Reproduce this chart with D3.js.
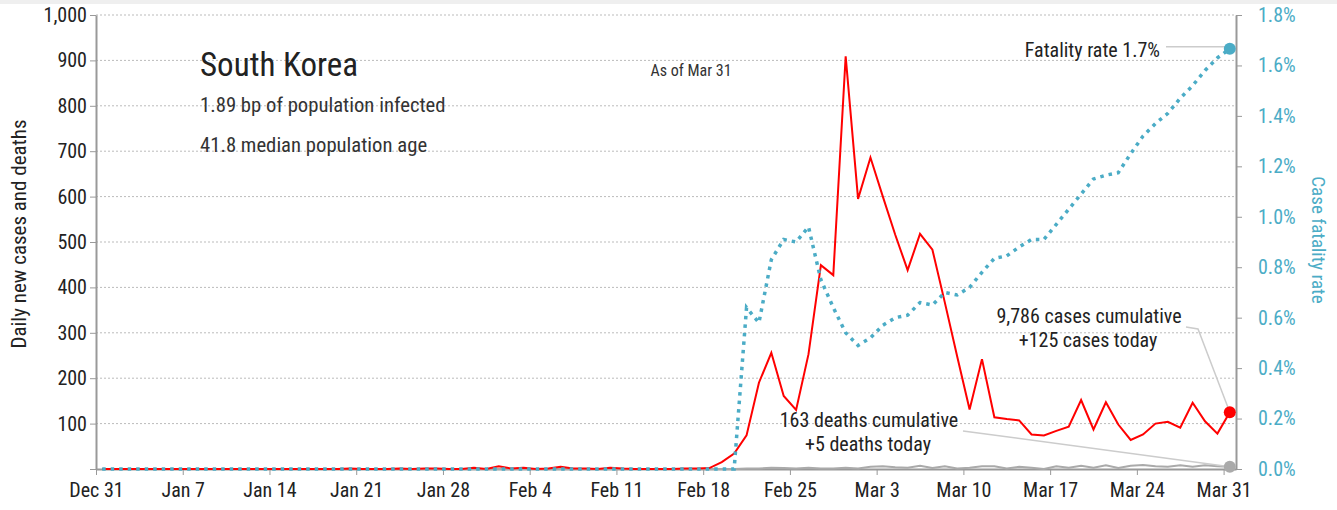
<!DOCTYPE html>
<html lang="en">
<head>
<meta charset="UTF-8">
<script src="https://d3js.org/d3.v7.min.js"></script>
<title>South Korea</title>
<style>
  body { margin: 0; background: #fff; }
  svg text { font-family: "Liberation Sans Narrow", "Arial Narrow", "Roboto Condensed", "DejaVu Sans Condensed", sans-serif; fill: #222; }
  .grid line { stroke: #bbb; stroke-dasharray: 2 2; }
  .axis path, .axis line { stroke: #999; }
  .axis path { stroke-width: 2; }
  .axis text { font-size: 20px; fill: #222; }
  .axis.right text { fill: #4bacc6; }
</style>
</head>
<body>
<div id="chart"></div>
<script>
// daily series, one value per day from Dec 31 2019 to Mar 31 2020
var startDate = "2019-12-31";

var cases = [
  0, 0, 0, 0, 0, 0, 0, 0, 0, 0, 0, 0, 0, 0, 0, 0, 0, 0, 0, 0,   // Dec 31 - Jan 19
  1, 0, 0, 0, 1, 0, 1, 1, 0, 0, 3, 0,                           // Jan 20 - Jan 31
  6, 1, 3, 0, 1, 5, 1, 1, 0, 3, 1, 0, 0, 0, 0, 1, 1, 2,         // Feb 1 - Feb 18
  15, 34, 74, 190, 256, 161, 130, 253, 449, 427, 909,           // Feb 19 - Feb 29
  595, 686, 600, 516, 438, 518, 483, 367, 248, 131, 242, 114, 110, 107, 76, 74,
  84, 93, 152, 87, 147, 98, 64, 76, 100, 104, 91, 146, 105, 78, 125
];

var deaths = [
  0, 0, 0, 0, 0, 0, 0, 0, 0, 0, 0, 0, 0, 0, 0, 0, 0, 0, 0, 0,
  0, 0, 0, 0, 0, 0, 0, 0, 0, 0, 0, 0,
  0, 0, 0, 0, 0, 0, 0, 0, 0, 0, 0, 0, 0, 0, 0, 0, 0, 0,
  0, 0, 1, 1, 3, 2, 1, 3, 1, 1, 3,
  1, 5, 6, 4, 3, 7, 2, 6, 1, 3, 6, 6, 1, 5, 3, 0,
  6, 3, 7, 3, 8, 2, 7, 9, 6, 5, 8, 5, 8, 6, 5
];

// case fatality rate, percent
var fatality = [
  0, 0, 0, 0, 0, 0, 0, 0, 0, 0, 0, 0, 0, 0, 0, 0, 0, 0, 0, 0,
  0, 0, 0, 0, 0, 0, 0, 0, 0, 0, 0, 0,
  0, 0, 0, 0, 0, 0, 0, 0, 0, 0, 0, 0, 0, 0, 0, 0, 0, 0,
  0, 0, 0.64, 0.58, 0.83, 0.91, 0.90, 0.96, 0.75, 0.64, 0.54,
  0.49, 0.52, 0.57, 0.60, 0.61, 0.66, 0.65, 0.70, 0.69, 0.72, 0.78, 0.835, 0.845, 0.88, 0.91, 0.91,
  0.97, 1.03, 1.09, 1.15, 1.165, 1.175, 1.25, 1.32, 1.37, 1.41, 1.47, 1.52, 1.58, 1.63, 1.666
];

var leftTicks = [0, 100, 200, 300, 400, 500, 600, 700, 800, 900, 1000];
var rightTicks = [0, 0.2, 0.4, 0.6, 0.8, 1.0, 1.2, 1.4, 1.6, 1.8];
var xTicks = ["2019-12-31", "2020-01-07", "2020-01-14", "2020-01-21", "2020-01-28", "2020-02-04",
  "2020-02-11", "2020-02-18", "2020-02-25", "2020-03-03", "2020-03-10", "2020-03-17",
  "2020-03-24", "2020-03-31"];

var country = "South Korea",
    infectedText = "1.89 bp of population infected",
    ageText = "41.8 median population age",
    asOf = "As of Mar 31";

var margin = {top: 15, right: 101, bottom: 41, left: 96},
    W = 1337, H = 510,
    width = W - margin.left - margin.right,
    height = H - margin.top - margin.bottom;

var parse = d3.timeParse("%Y-%m-%d"),
    start = parse(startDate),
    days = cases.map(function(d, i) { return d3.timeDay.offset(start, i); });

var data = days.map(function(day, i) {
  return {date: day, mid: d3.timeHour.offset(day, 12), cases: cases[i], deaths: deaths[i], rate: fatality[i]};
});

var x = d3.scaleTime()
    .domain([start, d3.timeDay.offset(days[days.length - 1], 1)])
    .range([0, width]);
var y = d3.scaleLinear().domain([0, 1000]).range([height, 0]);
var yr = d3.scaleLinear().domain([0, 1.8]).range([height, 0]);

var svg = d3.select("#chart").append("svg")
    .attr("width", W)
    .attr("height", H);

svg.append("rect")
    .attr("width", W)
    .attr("height", 4)
    .attr("fill", "#efefef");

var g = svg.append("g")
    .attr("transform", "translate(" + margin.left + "," + margin.top + ")");

// gridlines
g.append("g")
    .attr("class", "grid")
  .selectAll("line")
    .data(leftTicks.filter(function(d) { return d > 0; }))
  .enter().append("line")
    .attr("x1", 0)
    .attr("x2", width)
    .attr("y1", function(d) { return y(d); })
    .attr("y2", function(d) { return y(d); });

// axes
g.append("g")
    .attr("class", "axis left")
    .call(d3.axisLeft(y).tickValues(leftTicks).tickSize(6).tickSizeOuter(0).tickPadding(3)
      .tickFormat(function(d) { return d === 0 ? "" : d3.format(",")(d); }));

g.append("g")
    .attr("class", "axis right")
    .attr("transform", "translate(" + width + ",0)")
    .call(d3.axisRight(yr).tickValues(rightTicks).tickSize(6).tickSizeOuter(0).tickPadding(16)
      .tickFormat(function(d) { return d.toFixed(1) + "%"; }));

g.append("g")
    .attr("class", "axis bottom")
    .attr("transform", "translate(0," + height + ")")
    .call(d3.axisBottom(x).tickValues(xTicks.map(parse)).tickSize(6).tickSizeOuter(0).tickPadding(8)
      .tickFormat(d3.timeFormat("%b %-d")));

// axis titles
svg.append("text")
    .attr("transform", "translate(26," + (margin.top + height / 2 - 8) + ") rotate(-90)")
    .attr("text-anchor", "middle")
    .attr("font-size", "21px")
    .text("Daily new cases and deaths");

svg.append("text")
    .attr("transform", "translate(1312," + (margin.top + height / 2 - 2) + ") rotate(90)")
    .attr("text-anchor", "middle")
    .attr("font-size", "19px")
    .style("fill", "#4bacc6")
    .text("Case fatality rate");

// lines
var deathLine = d3.line()
    .x(function(d) { return x(d.mid); })
    .y(function(d) { return y(d.deaths); });
var caseLine = d3.line()
    .x(function(d) { return x(d.mid); })
    .y(function(d) { return y(d.cases); });
var rateLine = d3.line()
    .x(function(d) { return x(d.mid); })
    .y(function(d) { return yr(d.rate); });

g.append("path")
    .datum(data)
    .attr("fill", "none")
    .attr("stroke", "#aaa")
    .attr("stroke-width", 2)
    .attr("d", deathLine);

g.append("path")
    .datum(data)
    .attr("fill", "none")
    .attr("stroke", "#ff0000")
    .attr("stroke-width", 2)
    .attr("stroke-linejoin", "miter")
    .attr("d", caseLine);

g.append("path")
    .datum(data)
    .attr("fill", "none")
    .attr("stroke", "#4bacc6")
    .attr("stroke-width", 3.5)
    .attr("stroke-dasharray", "3.5 5")
    .attr("d", rateLine);

// title block
svg.append("text").attr("x", 200).attr("y", 76).attr("font-size", "33px").text(country);
svg.append("text").attr("x", 200).attr("y", 112).attr("font-size", "20.7px").style("fill", "#333").text(infectedText);
svg.append("text").attr("x", 200).attr("y", 152).attr("font-size", "20.7px").style("fill", "#333").text(ageText);
svg.append("text").attr("x", 691).attr("y", 76).attr("font-size", "16px").attr("text-anchor", "middle").style("fill", "#333").text(asOf);

// end-point annotations
var last = data[data.length - 1],
    lx = margin.left + x(last.mid),
    cumCases = d3.sum(cases),
    cumDeaths = d3.sum(deaths);

var rateY = margin.top + yr(last.rate),
    caseY = margin.top + y(last.cases),
    deathY = margin.top + y(last.deaths);

svg.append("line").attr("x1", 1166).attr("x2", lx).attr("y1", rateY - 2).attr("y2", rateY - 2)
    .attr("stroke", "#ccc").attr("stroke-width", 1.5);
svg.append("polyline").attr("points", "1186,327 1198,329 " + lx + "," + caseY)
    .attr("fill", "none").attr("stroke", "#ccc").attr("stroke-width", 1.5);
svg.append("line").attr("x1", 963).attr("y1", 431).attr("x2", lx).attr("y2", deathY)
    .attr("stroke", "#ccc").attr("stroke-width", 1.5);

svg.append("circle").attr("cx", lx).attr("cy", rateY).attr("r", 6).attr("fill", "#4bacc6");
svg.append("circle").attr("cx", lx).attr("cy", caseY).attr("r", 6).attr("fill", "#ff0000");
svg.append("circle").attr("cx", lx).attr("cy", deathY).attr("r", 6).attr("fill", "#aaa");

svg.append("text").attr("x", 1160).attr("y", 57).attr("font-size", "20px").attr("text-anchor", "end")
    .text("Fatality rate " + last.rate.toFixed(1) + "%");

svg.append("text").attr("x", 1089).attr("y", 323).attr("font-size", "20px").attr("text-anchor", "middle")
    .text(d3.format(",")(cumCases) + " cases cumulative");
svg.append("text").attr("x", 1088).attr("y", 347).attr("font-size", "20px").attr("text-anchor", "middle")
    .text("+" + last.cases + " cases today");

svg.append("text").attr("x", 869).attr("y", 427).attr("font-size", "20px").attr("text-anchor", "middle")
    .text(cumDeaths + " deaths cumulative");
svg.append("text").attr("x", 868).attr("y", 451).attr("font-size", "20px").attr("text-anchor", "middle")
    .text("+" + last.deaths + " deaths today");
</script>
</body>
</html>
